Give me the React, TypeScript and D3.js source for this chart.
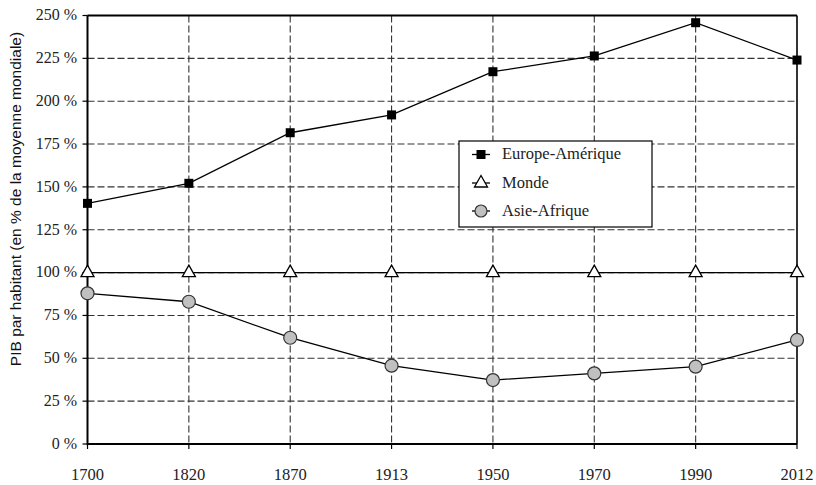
import React from "react";
import * as d3 from "d3";

const years = ["1700", "1820", "1870", "1913", "1950", "1970", "1990", "2012"];
const europeAmerique = [140.4, 152.1, 181.6, 192, 217.2, 226.4, 245.8, 224];
const monde = [100, 100, 100, 100, 100, 100, 100, 100];
const asieAfrique = [87.9, 83, 62, 45.7, 37.3, 41.2, 45.1, 60.7];
const yTicks = [0, 25, 50, 75, 100, 125, 150, 175, 200, 225, 250];

const W = 816;
const H = 485;
const left = 87.5;
const right = 797;
const top = 15.5;
const bottom = 444;
const serifStyle = { fontFamily: '"Liberation Serif", "Times New Roman", serif' };
const sansStyle = { fontFamily: '"Liberation Sans", Arial, sans-serif' };

const triPath = (cx: number, cy: number) =>
  `M${cx},${cy - 6.5}L${cx + 6.5},${cy + 5}L${cx - 6.5},${cy + 5}Z`;

export default function App() {
  const x = d3.scalePoint<string>().domain(years).range([left, right]);
  const y = d3.scaleLinear().domain([0, 250]).range([bottom, top]);
  const line = d3
    .line<number>()
    .x((_, i) => x(years[i]) as number)
    .y((d) => y(d));

  const legendX = 459;
  const legendY = 141;
  const rows = [154.5, 183, 211];

  return (
    <svg
      width={W}
      height={H}
      style={{ position: "absolute", left: 0, top: 0, background: "#fff" }}
    >
      <rect width={W} height={H} fill="#fff" />

      {/* horizontal grid */}
      {yTicks
        .filter((t) => t > 0 && t < 250)
        .map((t) => (
          <line
            key={"h" + t}
            x1={left}
            x2={right}
            y1={y(t)}
            y2={y(t)}
            stroke="#333"
            strokeWidth={1.1}
            strokeDasharray="7,3"
          />
        ))}
      {/* vertical grid */}
      {years.slice(1, -1).map((yr) => (
        <line
          key={"v" + yr}
          x1={x(yr)}
          x2={x(yr)}
          y1={top}
          y2={bottom}
          stroke="#333"
          strokeWidth={1.1}
          strokeDasharray="7,3"
        />
      ))}

      {/* plot frame */}
      <line x1={left} x2={right} y1={top} y2={top} stroke="#000" strokeWidth={2} />
      <line x1={right} x2={right} y1={top} y2={bottom} stroke="#000" strokeWidth={1.6} />
      <line x1={left} x2={left} y1={top} y2={bottom + 1} stroke="#000" strokeWidth={2} />
      <line x1={left} x2={right} y1={bottom} y2={bottom} stroke="#000" strokeWidth={2} />

      {/* y ticks */}
      {yTicks.map((t) => (
        <g key={"yt" + t}>
          <line x1={left - 5} x2={left} y1={y(t)} y2={y(t)} stroke="#000" strokeWidth={1.2} />
          <text
            x={77}
            y={y(t)}
            dy="0.3em"
            textAnchor="end"
            style={serifStyle}
            fontSize={16}
            fill="#222"
          >
            {t} %
          </text>
        </g>
      ))}

      {/* x ticks */}
      {years.map((yr) => (
        <g key={"xt" + yr}>
          <line
            x1={x(yr)}
            x2={x(yr)}
            y1={bottom}
            y2={bottom + 5}
            stroke="#000"
            strokeWidth={1.2}
          />
          <text
            x={x(yr)}
            y={479.5}
            textAnchor="middle"
            style={serifStyle}
            fontSize={16.5}
            fill="#222"
          >
            {yr}
          </text>
        </g>
      ))}

      {/* y axis title */}
      <text
        transform={`translate(21,199) rotate(-90)`}
        textAnchor="middle"
        style={sansStyle}
        fontSize={15.5}
        fill="#111"
      >
        PIB par habitant (en % de la moyenne mondiale)
      </text>

      {/* series lines */}
      <path d={line(europeAmerique) || ""} fill="none" stroke="#000" strokeWidth={1.3} />
      <path d={line(monde) || ""} fill="none" stroke="#000" strokeWidth={1.3} />
      <path d={line(asieAfrique) || ""} fill="none" stroke="#000" strokeWidth={1.3} />

      {/* markers */}
      {europeAmerique.map((v, i) => (
        <rect
          key={"ea" + i}
          x={(x(years[i]) as number) - 4.5}
          y={y(v) - 4.5}
          width={9}
          height={9}
          fill="#000"
        />
      ))}
      {monde.map((v, i) => (
        <path
          key={"m" + i}
          d={triPath(x(years[i]) as number, y(v) - 1)}
          fill="#fff"
          stroke="#000"
          strokeWidth={1.3}
        />
      ))}
      {asieAfrique.map((v, i) => (
        <circle
          key={"aa" + i}
          cx={x(years[i]) as number}
          cy={y(v)}
          r={6.5}
          fill="#c0c0c0"
          stroke="#333"
          strokeWidth={1.2}
        />
      ))}

      {/* legend */}
      <rect
        x={legendX}
        y={legendY}
        width={193}
        height={86}
        fill="#fff"
        stroke="#000"
        strokeWidth={1.2}
      />
      {[
        { name: "Europe-Amérique", kind: "sq" },
        { name: "Monde", kind: "tri" },
        { name: "Asie-Afrique", kind: "circ" },
      ].map((s, i) => {
        const cy = rows[i];
        const cx = 481;
        return (
          <g key={s.name}>
            <line x1={472} x2={490} y1={cy} y2={cy} stroke="#000" strokeWidth={1.3} />
            {s.kind === "sq" && (
              <rect x={cx - 4.5} y={cy - 4.5} width={9} height={9} fill="#000" />
            )}
            {s.kind === "tri" && (
              <path d={triPath(cx, cy - 1)} fill="#fff" stroke="#000" strokeWidth={1.3} />
            )}
            {s.kind === "circ" && (
              <circle cx={cx} cy={cy} r={6} fill="#c0c0c0" stroke="#333" strokeWidth={1.2} />
            )}
            <text
              x={502}
              y={cy}
              dy="0.3em"
              style={serifStyle}
              fontSize={16.5}
              fill="#222"
            >
              {s.name}
            </text>
          </g>
        );
      })}
    </svg>
  );
}
